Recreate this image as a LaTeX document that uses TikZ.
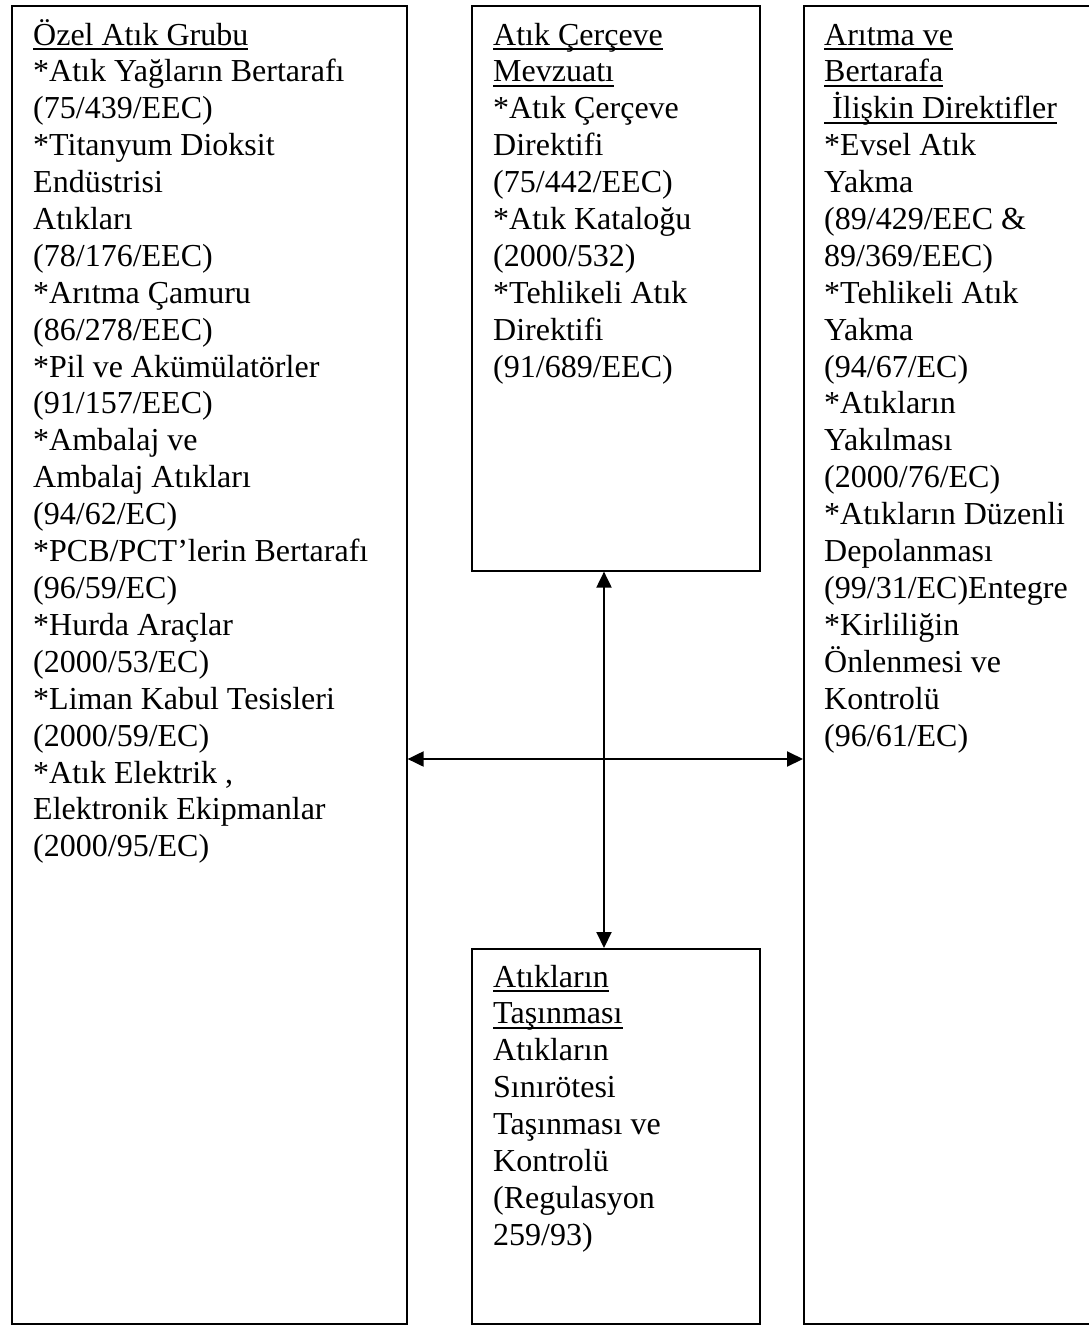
\documentclass[tikz,border=0pt]{standalone}
\usepackage{fontspec}
\setmainfont{Liberation Serif}
\usetikzlibrary{arrows.meta}
% one printed line of a text block
\newcommand{\rowtxt}[1]{\hbox{#1}}
% underlined heading line, rule at a fixed depth below the baseline
\newcommand{\ulrow}[1]{\hbox{\setbox0\hbox{#1}\rlap{\rule[-5pt]{\wd0}{1.7pt}}\box0}}
\begin{document}
\begin{tikzpicture}[x=1pt,y=-1pt,
  box/.style={draw,line width=1.6pt,inner sep=0pt,anchor=north west},
  txt/.style={inner sep=0pt,anchor=base west,font=\fontsize{32}{36.9}\selectfont},
  link/.style={line width=2pt,{Triangle[length=16pt,width=15pt]}-{Triangle[length=16pt,width=15pt]}}]
\useasboundingbox (0,0) rectangle (1088,1325);

% frames
\node[box,minimum width=395pt,minimum height=1318pt] (left) at (11,5) {};
\node[box,minimum width=288pt,minimum height=565pt] (mtop) at (471,5) {};
\node[box,minimum width=288pt,minimum height=375pt] (mbot) at (471,948) {};
\node[box,minimum width=330pt,minimum height=1318pt] (right) at (803,5) {};

% texts
\node[txt] (tleft) at (33,45) {\vtop{\baselineskip=36.9pt
  \ulrow{Özel Atık Grubu}
  \rowtxt{*Atık Yağların Bertarafı}
  \rowtxt{(75/439/EEC)}
  \rowtxt{*Titanyum Dioksit}
  \rowtxt{Endüstrisi}
  \rowtxt{Atıkları}
  \rowtxt{(78/176/EEC)}
  \rowtxt{*Arıtma Çamuru}
  \rowtxt{(86/278/EEC)}
  \rowtxt{*Pil ve Akümülatörler}
  \rowtxt{(91/157/EEC)}
  \rowtxt{*Ambalaj ve}
  \rowtxt{Ambalaj Atıkları}
  \rowtxt{(94/62/EC)}
  \rowtxt{*PCB/PCT’lerin Bertarafı}
  \rowtxt{(96/59/EC)}
  \rowtxt{*Hurda Araçlar}
  \rowtxt{(2000/53/EC)}
  \rowtxt{*Liman Kabul Tesisleri}
  \rowtxt{(2000/59/EC)}
  \rowtxt{*Atık Elektrik ,}
  \rowtxt{Elektronik Ekipmanlar}
  \rowtxt{(2000/95/EC)}}};

\node[txt] (tmtop) at (493,45) {\vtop{\baselineskip=36.9pt
  \ulrow{Atık Çerçeve}
  \ulrow{Mevzuatı}
  \rowtxt{*Atık Çerçeve}
  \rowtxt{Direktifi}
  \rowtxt{(75/442/EEC)}
  \rowtxt{*Atık Kataloğu}
  \rowtxt{(2000/532)}
  \rowtxt{*Tehlikeli Atık}
  \rowtxt{Direktifi}
  \rowtxt{(91/689/EEC)}}};

\node[txt] (tright) at (824,45) {\vtop{\baselineskip=36.9pt
  \ulrow{Arıtma ve}
  \ulrow{Bertarafa}
  \ulrow{\ İlişkin Direktifler}
  \rowtxt{*Evsel Atık}
  \rowtxt{Yakma}
  \rowtxt{(89/429/EEC \&}
  \rowtxt{89/369/EEC)}
  \rowtxt{*Tehlikeli Atık}
  \rowtxt{Yakma}
  \rowtxt{(94/67/EC)}
  \rowtxt{*Atıkların}
  \rowtxt{Yakılması}
  \rowtxt{(2000/76/EC)}
  \rowtxt{*Atıkların Düzenli}
  \rowtxt{Depolanması}
  \rowtxt{(99/31/EC)Entegre}
  \rowtxt{*Kirliliğin}
  \rowtxt{Önlenmesi ve}
  \rowtxt{Kontrolü}
  \rowtxt{(96/61/EC)}}};

\node[txt] (tmbot) at (493,987) {\vtop{\baselineskip=36.9pt
  \ulrow{Atıkların}
  \ulrow{Taşınması}
  \rowtxt{Atıkların}
  \rowtxt{Sınırötesi}
  \rowtxt{Taşınması ve}
  \rowtxt{Kontrolü}
  \rowtxt{(Regulasyon}
  \rowtxt{259/93)}}};

% connectors
\coordinate (vx) at (604,0);
\coordinate (hy) at (0,759);
\draw[link] (vx |- mtop.south) -- (vx |- mbot.north);
\draw[link] (left.east |- hy) -- (right.west |- hy);
\end{tikzpicture}
\end{document}
